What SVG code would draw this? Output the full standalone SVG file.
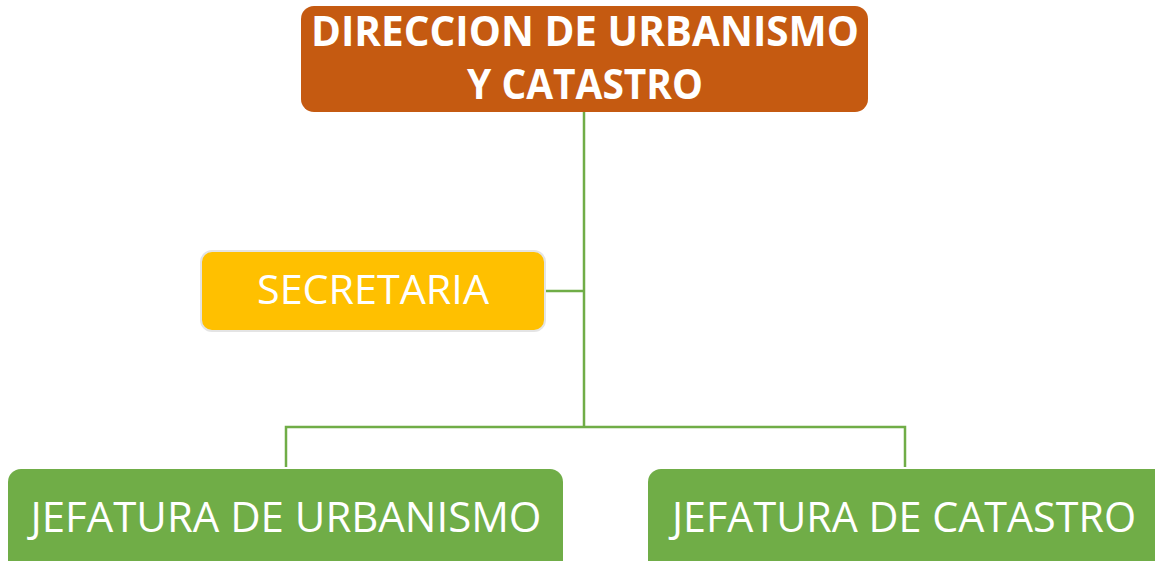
<svg xmlns="http://www.w3.org/2000/svg" width="1155" height="561" viewBox="0 0 1155 561">
<style>
.conn{fill:none;stroke:#70AD47;stroke-width:2.5}
.t{fill:#fff;font-family:"Open Sans","Liberation Sans",sans-serif;text-anchor:middle}
.b{font-weight:bold}
</style>
<rect width="1155" height="561" fill="#fff"/>
<g id="connectors">
<path class="conn" d="M584 112V427M545 291H584M286 467V427H905V467"/>
</g>
<g id="direccion">
<rect x="301" y="6" width="567" height="106" rx="13" fill="#C55A11"/>
<text class="t b" x="585" y="46" font-size="42" textLength="548" lengthAdjust="spacingAndGlyphs">DIRECCION DE URBANISMO</text>
<text class="t b" x="585" y="99" font-size="42" textLength="236" lengthAdjust="spacingAndGlyphs">Y CATASTRO</text>
</g>
<g id="secretaria">
<rect x="201" y="251" width="344" height="80" rx="11" fill="#FFC000" stroke="#E4E4E4" stroke-width="2"/>
<text class="t" x="373" y="304" font-size="40" textLength="232" lengthAdjust="spacingAndGlyphs">SECRETARIA</text>
</g>
<g id="jef-urbanismo">
<rect x="8" y="469" width="555" height="110" rx="13" fill="#70AD47"/>
<text class="t" x="286" y="532" font-size="42" textLength="511" lengthAdjust="spacingAndGlyphs">JEFATURA DE URBANISMO</text>
</g>
<g id="jef-catastro">
<rect x="648" y="469" width="530" height="110" rx="13" fill="#70AD47"/>
<text class="t" x="904" y="532" font-size="42" textLength="464" lengthAdjust="spacingAndGlyphs">JEFATURA DE CATASTRO</text>
</g>
</svg>
